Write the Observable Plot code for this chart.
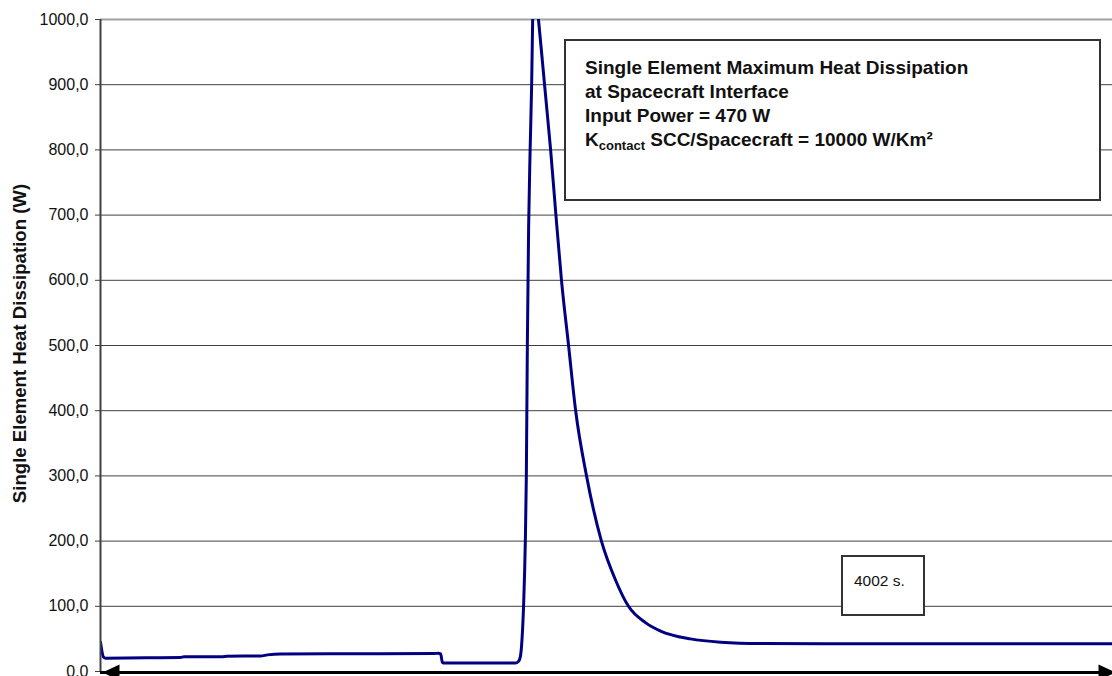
<!DOCTYPE html>
<html>
<head>
<meta charset="utf-8">
<script src="https://cdn.jsdelivr.net/npm/d3@7"></script>
<script src="https://cdn.jsdelivr.net/npm/@observablehq/plot@0.6"></script>
<style>
  html, body { margin: 0; padding: 0; background: #fff; }
  #wrap { position: relative; width: 1112px; height: 676px; overflow: hidden; font-family: "Liberation Sans", Arial, sans-serif; }
  .box { position: absolute; background: #fff; border: 2px solid #333; box-sizing: border-box; color: #111; }
  #info { left: 564px; top: 39px; width: 537px; height: 162px; padding: 15px 0 0 19px; font-weight: bold; font-size: 19px; line-height: 24px; white-space: nowrap; }
  #info sub { font-size: 13px; vertical-align: -4px; line-height: 0; }
  #dur { left: 841px; top: 555px; width: 84px; height: 61px; padding: 15px 0 0 11px; font-size: 15.5px; line-height: 18px; }
</style>
</head>
<body>
<div id="wrap"></div>
<script>
// time (s) and heat dissipation (W)
const timeS = [0, 12, 20, 180, 316, 330, 480, 500, 633, 660, 712, 1000, 1320, 1335, 1345, 1352, 1360, 1500, 1641, 1652, 1660, 1667, 1673, 1680, 1684, 1688, 1693, 1699, 1705, 1709, 1714, 1732, 1756, 1780, 1801, 1823, 1851, 1879, 1922, 1981, 2037, 2088, 2155, 2215, 2333, 2452, 2610, 3000, 3500, 4002];
const heatW = [45, 22, 20.5, 21, 21.5, 22.5, 22.8, 23.5, 23.8, 25.5, 27, 27.3, 27.6, 28, 27, 14, 13, 13, 13, 15, 22, 50, 100, 200, 300, 500, 680, 800, 900, 1000, 1065, 1000, 900, 800, 700, 600, 500, 400, 300, 200, 140, 100, 75, 62, 50, 45, 43, 42.5, 42.5, 42.5];
const yTicks = [0, 100, 200, 300, 400, 500, 600, 700, 800, 900, 1000];
const yLabel = "Single Element Heat Dissipation (W)";
const spanS = [0, 4002];
const durationLabel = "4002 s.";
const infoLines = ["Single Element Maximum Heat Dissipation", "at Spacecraft Interface", "Input Power = 470 W"];

const data = timeS.map((t, i) => ({t, w: heatW[i]}));
const fmt = v => v.toFixed(1).replace(".", ",");

const leftHead = {draw(ctx) { ctx.moveTo(0, 0); ctx.lineTo(17, -8); ctx.lineTo(17, 8); ctx.closePath(); }};
const rightHead = {draw(ctx) { ctx.moveTo(0, 0); ctx.lineTo(-17, -8); ctx.lineTo(-17, 8); ctx.closePath(); }};

const chart = Plot.plot({
  width: 1112,
  height: 676,
  marginLeft: 100,
  marginRight: 0,
  marginTop: 19,
  marginBottom: 5,
  style: {fontFamily: "'Liberation Sans', Arial, sans-serif", fontSize: "16px", color: "#111", background: "#fff"},
  x: {domain: spanS, axis: null},
  y: {domain: [0, 1000], axis: null},
  marks: [
    Plot.ruleY(yTicks.filter(v => v > 0 && v < 1000), {stroke: "#404040", strokeWidth: 1}),
    Plot.ruleY([1000], {stroke: "#a0a0a0", strokeWidth: 2}),
    Plot.line(data, {x: "t", y: "w", stroke: "#000080", strokeWidth: 3, curve: "monotone-x", clip: true}),
    Plot.ruleX([0], {stroke: "#404040", strokeWidth: 2}),
    Plot.axisY({ticks: yTicks, tickFormat: fmt, tickSize: 5, tickPadding: 7, stroke: "#404040", fill: "#111", label: null, fontSize: 16}),
    Plot.text([yLabel], {frameAnchor: "left", textAnchor: "middle", rotate: -90, dx: -80, dy: -2, fontWeight: "bold", fontSize: 18.6, fill: "#111"}),
    Plot.ruleY([0], {x1: spanS[0], x2: spanS[1], dy: 1, stroke: "#000", strokeWidth: 3}),
    Plot.dot([spanS[0]], {x: d => d, y: 0, dy: 1, dx: 2, symbol: leftHead, fill: "#000", stroke: null, r: 9}),
    Plot.dot([spanS[1]], {x: d => d, y: 0, dy: 1, dx: 3, symbol: rightHead, fill: "#000", stroke: null, r: 9})
  ]
});
const wrap = document.getElementById("wrap");
wrap.appendChild(chart);

const info = document.createElement("div");
info.id = "info";
info.className = "box";
info.innerHTML = infoLines.map(s => s + "<br>").join("") + "K<sub>contact</sub> SCC/Spacecraft = 10000 W/Km²";
wrap.appendChild(info);

const dur = document.createElement("div");
dur.id = "dur";
dur.className = "box";
dur.textContent = durationLabel;
wrap.appendChild(dur);
</script>
</body>
</html>
